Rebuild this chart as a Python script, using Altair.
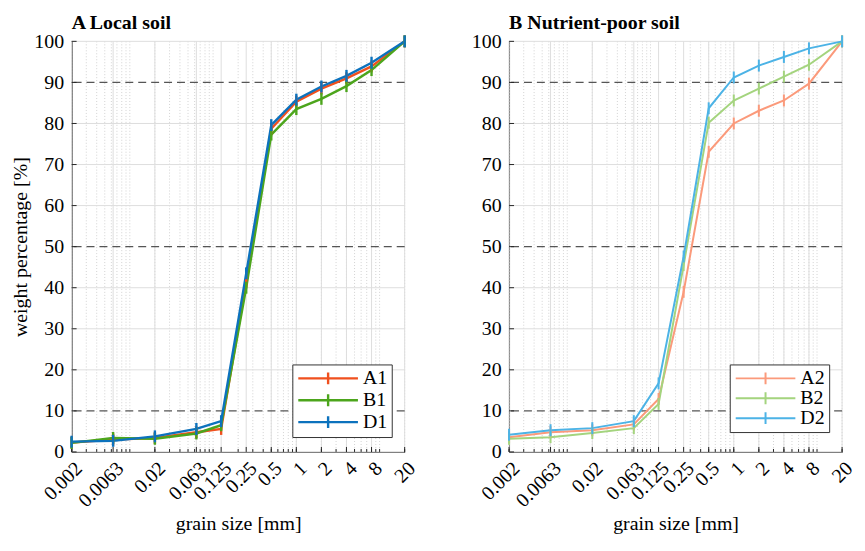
import altair as alt
import pandas as pd

# ---------------- data ----------------
SIZES = [0.002, 0.0063, 0.02, 0.063, 0.125, 0.25, 0.5, 1, 2, 4, 8, 20]
TICK_LABELS = ["0.002", "0.0063", "0.02", "0.063", "0.125", "0.25",
               "0.5", "1", "2", "4", "8", "20"]

A1 = [2.3, 3.0, 3.4, 4.8, 5.6, 41.5, 78.7, 85.3, 88.5, 91.0, 93.9, 100]
B1 = [2.2, 3.4, 3.2, 4.5, 6.5, 40.0, 77.3, 83.5, 86.0, 89.1, 93.0, 100]
D1 = [2.5, 2.7, 3.8, 5.6, 7.5, 43.5, 79.6, 85.8, 89.0, 91.6, 94.8, 100]

A2 = [3.6, 4.8, 5.3, 6.7, 12.9, 39.0, 73.1, 80.0, 83.1, 85.6, 89.7, 100]
B2 = [3.2, 3.6, 4.6, 5.8, 11.7, 45.5, 80.2, 85.6, 88.5, 91.4, 94.3, 100]
D2 = [4.2, 5.3, 5.8, 7.5, 16.7, 47.6, 83.7, 91.2, 94.1, 96.2, 98.3, 100]

NAMES_LEFT = ["A1", "B1", "D1"]
COLORS_LEFT = ["#f0501e", "#4ca51c", "#0c72bd"]
NAMES_RIGHT = ["A2", "B2", "D2"]
COLORS_RIGHT = ["#fb9a7b", "#a4d47e", "#4cb3e6"]

Y_TICKS = [0, 10, 20, 30, 40, 50, 60, 70, 80, 90, 100]
DASHED = [10, 50, 90]
MINOR = [k * 10.0 ** n for n in range(-3, 2) for k in range(1, 10)
         if 0.002 <= k * 10.0 ** n <= 20]

FONT = "Liberation Serif"
W, H = 335, 413

label_expr = " : ".join(f"datum.value == {v} ? '{l}'" for v, l in zip(SIZES, TICK_LABELS)) + " : ''"


def panel(names, series, colors, title, ytitle, lw):
    rows = []
    for n, vals in zip(names, series):
        for s, v in zip(SIZES, vals):
            rows.append({"size": s, "pct": v, "sample": n})
    df = pd.DataFrame(rows)

    xscale = alt.Scale(type="log", domain=[0.002, 20], nice=False)
    yscale = alt.Scale(domain=[0, 100], nice=False)

    x_axis = alt.Axis(values=SIZES, labelExpr=label_expr, title="grain size [mm]",
                      labelAngle=-45, labelAlign="right", labelBaseline="top",
                      labelPadding=6, ticks=False, grid=False, labelOverlap=False,
                      labelFlush=False, titlePadding=3)
    yargs = dict(values=Y_TICKS, ticks=False, grid=False, labelPadding=8,
                 titlePadding=3, labelFlush=False)
    y_axis = alt.Axis(title=ytitle, **yargs) if ytitle else alt.Axis(title=None, **yargs)

    X = lambda f: alt.X(f, scale=xscale, axis=x_axis)
    Y = lambda f: alt.Y(f, scale=yscale, axis=y_axis)

    minor_grid = alt.Chart(pd.DataFrame({"x": MINOR})).mark_rule(
        color="#c8c8c8", strokeWidth=0.8, strokeDash=[1, 2]).encode(x=X("x:Q"))
    major_grid = alt.Chart(pd.DataFrame({"x": SIZES})).mark_rule(
        color="#dedede", strokeWidth=1).encode(x=X("x:Q"))
    hgrid = alt.Chart(pd.DataFrame({"y": [t for t in Y_TICKS if t not in DASHED]})).mark_rule(
        color="#dedede", strokeWidth=1).encode(y=Y("y:Q"))
    dashed = alt.Chart(pd.DataFrame({"y": DASHED})).mark_rule(
        color="#555555", strokeWidth=1.1, strokeDash=[8, 5]).encode(y=Y("y:Q"))
    yticks = alt.Chart(pd.DataFrame({"y": Y_TICKS})).mark_rule(
        color="#262626", strokeWidth=1).encode(y=Y("y:Q"), x=alt.value(0), x2=alt.value(5))
    xticks_minor = alt.Chart(pd.DataFrame({"x": MINOR})).mark_rule(
        color="#262626", strokeWidth=1).encode(x=X("x:Q"), y=alt.value(H), y2=alt.value(H - 3))
    xticks_major = alt.Chart(pd.DataFrame({"x": SIZES})).mark_rule(
        color="#262626", strokeWidth=1).encode(x=X("x:Q"), y=alt.value(H), y2=alt.value(H - 5))

    legend = alt.Legend(title=None, orient="none", legendX=W - 113, legendY=H - 88,
                        symbolType="M-5,0L5,0M0,-1L0,1", symbolSize=144,
                        symbolOffset=22, symbolStrokeWidth=lw,
                        labelFontSize=20, labelFont=FONT, labelOffset=25,
                        labelColor="black", strokeColor="#333333", fillColor="white",
                        padding=4, rowPadding=0)
    color = alt.Color("sample:N", scale=alt.Scale(domain=names, range=colors), legend=legend)

    lines = alt.Chart(df).mark_line(strokeWidth=lw).encode(
        x=X("size:Q"), y=Y("pct:Q"), color=color)
    pts = alt.Chart(df).mark_point(shape="M0,-1L0,1", size=144, strokeWidth=lw,
                                   filled=False, opacity=1).encode(
        x=X("size:Q"), y=Y("pct:Q"), color=color)

    return alt.layer(minor_grid, major_grid, hgrid, dashed, yticks, xticks_minor,
                     xticks_major, lines, pts).properties(
        width=W, height=H,
        title=alt.Title(title, anchor="start", fontSize=20, fontWeight="bold",
                        font=FONT, offset=-2, color="black", frame="group"))


left = panel(NAMES_LEFT, [A1, B1, D1], COLORS_LEFT, "A Local soil", "weight percentage [%]", 2.4)
right = panel(NAMES_RIGHT, [A2, B2, D2], COLORS_RIGHT, "B Nutrient-poor soil", None, 2.0)

chart = alt.hconcat(left, right, spacing=52).resolve_scale(color="independent").properties(
    padding={"left": 3, "top": 3, "right": 0, "bottom": 0}
).configure_view(stroke=None).configure_axis(
    labelFont=FONT, titleFont=FONT, labelFontSize=20, titleFontSize=20,
    labelColor="black", titleColor="black", titleFontWeight="normal",
    domainColor="#262626", domainWidth=1
)

chart.save("out.html", embed_options={"renderer": "svg", "actions": False})
